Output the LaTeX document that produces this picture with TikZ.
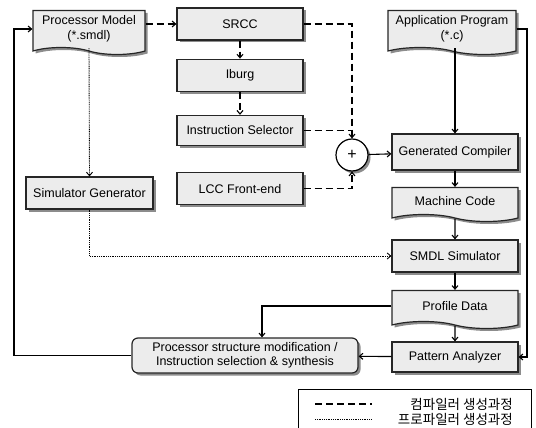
\documentclass[tikz,border=0pt]{standalone}
\usepackage{fontspec}
\setmainfont{Liberation Sans}
\newfontfamily\kr{Noto Sans CJK KR}
\usetikzlibrary{positioning, shapes.symbols, shadows, arrows.meta}
\tikzset{
x=1pt, y=-1pt, % pixel grid of the original figure
>={Straight Barb[length=3.5pt,width=6pt]},
every node/.style={font=\fontsize{12.5}{14.5}\selectfont},
box/.style={rectangle, draw=black!85, line width=1.2pt, fill=gray!15, minimum width=126pt, minimum height=32pt, inner sep=2pt,
  drop shadow={shadow xshift=2.5pt, shadow yshift=-2.5pt, fill=black!45, opacity=1}},
doc/.style={box, tape, tape bend top=none, tape bend bottom=out and in, tape bend height=7pt, align=center},
conn/.style={line width=1.1pt, ->},
comp/.style={conn, dash pattern=on 7pt off 4pt}, % compiler generation
prof/.style={conn, line width=0.9pt, dash pattern=on 1pt off 0.8pt}, % profiler generation
}
\begin{document}
\begin{tikzpicture}
\useasboundingbox (0,0) rectangle (536,428);
% left and middle column
\node [doc, minimum width=112pt, minimum height=44pt] (pm) at (89,29) {Processor Model\\(*.smdl)};
\node [box] (srcc) at (240,24) {SRCC};
\node [box] (iburg) [below=18pt of srcc] {Iburg};
\node [box, minimum height=30pt] (isel) [below=23pt of iburg] {Instruction Selector};
\node [box] (lcc) [below=26pt of isel] {LCC Front-end};
\node [box, minimum width=127pt] (simgen) at (89.5,193) {Simulator Generator};
\node [circle, draw=black, line width=1.2pt, fill=white, minimum size=32pt, inner sep=0pt,
  drop shadow={shadow xshift=2.5pt, shadow yshift=-2.5pt, fill=black!45, opacity=1},
  font=\fontsize{16}{16}\selectfont] (plus) at (352,155) {+};
% right column
\node [doc, minimum width=128pt, minimum height=44pt] (app) at (452,29) {Application Program\\(*.c)};
\node [box, minimum height=36pt] (gc) at (455,152) {Generated Compiler};
\node [doc, minimum height=34pt] (mc) at (455,201) {Machine Code};
\node [box] (smdl) at (455,256) {SMDL Simulator};
\node [doc, minimum height=38pt] (pd) at (455,306) {Profile Data};
\node [box, minimum height=30pt] (pat) at (455,357) {Pattern Analyzer};
\node [box, rounded corners=6pt, minimum width=226pt, minimum height=35pt, align=center] (mod) at (245,355.5)
  {Processor structure modification /\\Instruction selection \& synthesis};
\coordinate (lline) at (14,0);
\coordinate (rline) at (527,0);
% compiler generation
\draw [comp] (pm.east |- srcc.west) -- (srcc.west);
\draw [comp] (srcc) -- (iburg);
\draw [comp] (iburg) -- (isel);
\draw [comp] (srcc.east) -| (plus.north);
\draw [comp, -] (isel.east) -- (isel.east -| plus.north);
\draw [comp] (lcc.east) -| (plus.south);
\draw [conn] (plus) -- (gc);
\draw [conn] (app.south -| gc.north) -- (gc.north);
\draw [conn] (gc) -- (mc);
\draw [conn] (mc) -- (smdl);
\draw [conn] (smdl) -- (pd);
\draw [conn] (pd) -- (pat);
\draw [conn] (pat) -- (mod);
\draw [conn] (app.east) -- (app.east -| rline) |- (pat.east);
\draw [conn] (pd.west) -| ([xshift=17pt]mod.north);
\draw [conn] (mod.west) -- (mod.west -| lline) |- (pm.west);
% profiler generation
\draw [prof] (pm.south) -- (simgen.north);
\draw [prof] (simgen.south) |- (smdl.west);
% legend
\node [draw=black, line width=1pt, minimum width=233pt, minimum height=39pt] (legend) at (414.5,408.5) {};
\coordinate (d1) at (315,404);
\coordinate (d2) at (372,404);
\coordinate (p1) at (315,419);
\coordinate (p2) at (372,419);
\draw [comp, -] (d1) -- (d2);
\draw [prof, -] (p1) -- (p2);
\node [anchor=east, font=\kr\fontsize{13.5}{14}\selectfont, inner sep=0pt] (ktxt1) at (513,404) {컴파일러 생성과정};
\node [anchor=east, font=\kr\fontsize{13.5}{14}\selectfont, inner sep=0pt] (ktxt2) at (513,419) {프로파일러 생성과정};
\end{tikzpicture}
\end{document}
